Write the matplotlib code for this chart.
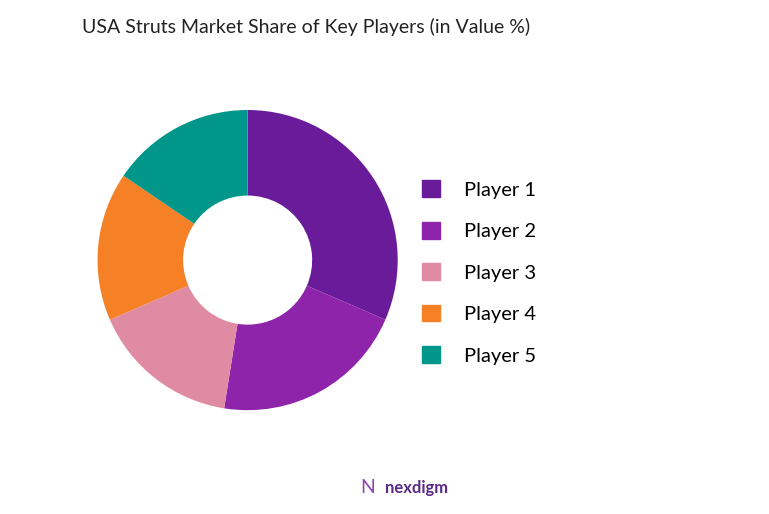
import matplotlib
matplotlib.use("Agg")
import matplotlib.pyplot as plt
from matplotlib.patches import Patch

labels = ["Player 1", "Player 2", "Player 3", "Player 4", "Player 5"]
values = [31.5, 21, 16, 16, 15.5]
colors = ["#6A1B9A", "#8E24AA", "#E08BA4", "#F58025", "#00968A"]

fig = plt.figure(figsize=(7.69, 5.14), dpi=100)
ax = fig.add_axes([0.078, 0.129, 0.488, 0.73])
ax.pie(values, colors=colors, startangle=90, counterclock=False,
       wedgeprops=dict(width=0.57, edgecolor="none"))
ax.set_aspect("equal")
fig.text(0.107, 0.965, "USA Struts Market Share of Key Players (in Value %)",
         fontsize=14, family="Lato", va="top", color="#222222")
handles = [Patch(color=c) for c in colors]
fig.legend(handles, labels, loc="center left", bbox_to_anchor=(0.525, 0.47),
           frameon=False, prop={"family": "Lato", "size": 14.5},
           handlelength=0.9, handleheight=0.9, labelspacing=1.15, handletextpad=1.2)
fig.text(0.5, 0.04, "nexdigm", fontsize=12, color="#5B2A86", ha="left",
         family="Lato", weight="bold")
fig.text(0.468, 0.04, "N", fontsize=14, color="#8E44AD", ha="left", family="Lato")
fig.savefig("out.png", dpi=100)
